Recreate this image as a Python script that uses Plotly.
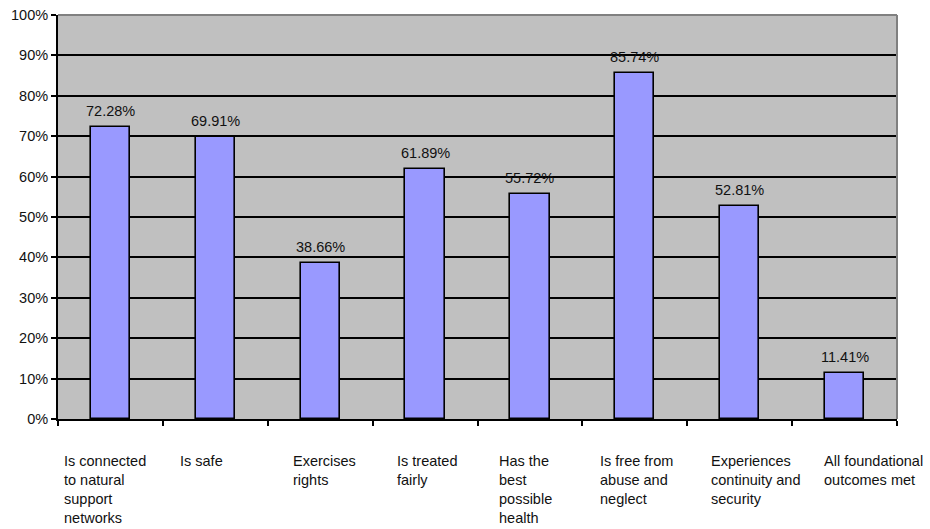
import plotly.graph_objects as go

# Foundational outcomes and the share of people meeting each one
categories = [
    "Is connected<br>to natural<br>support<br>networks",
    "Is safe",
    "Exercises<br>rights",
    "Is treated<br>fairly",
    "Has the<br>best<br>possible<br>health",
    "Is free from<br>abuse and<br>neglect",
    "Experiences<br>continuity and<br>security",
    "All foundational<br>outcomes met",
]
values = [0.7228, 0.6991, 0.3866, 0.6189, 0.5572, 0.8574, 0.5281, 0.1141]

# horizontal nudge (px) of each category label from its left tick
label_shift = [4, 15, 23, 22, 19, 16, 22, 30]

FONT = "Liberation Sans, Arial, sans-serif"
n = len(categories)
xpos = [i + 0.5 for i in range(n)]

fig = go.Figure(
    go.Bar(
        x=xpos,
        y=values,
        width=0.375,
        marker=dict(color="#9999FF", line=dict(color="black", width=1.6)),
        hoverinfo="skip",
    )
)

annotations = []
# value labels above each bar
for x, v in zip(xpos, values):
    annotations.append(dict(
        x=x, y=v, xref="x", yref="y", text=f"{v * 100:.2f}%",
        showarrow=False, xanchor="center", yanchor="bottom", yshift=6,
        font=dict(family=FONT, size=14.5, color="#111111"),
    ))
# category labels under the axis, left-aligned from each tick
for i, (cat, dx) in enumerate(zip(categories, label_shift)):
    annotations.append(dict(
        x=i, y=0, xref="x", yref="paper", text=cat, align="left",
        showarrow=False, xanchor="left", yanchor="top", xshift=dx, yshift=-32,
        font=dict(family=FONT, size=14.5, color="#111111"),
    ))

fig.update_layout(
    width=930, height=529,
    margin=dict(l=58, r=33, t=15, b=110, autoexpand=False),
    paper_bgcolor="white",
    plot_bgcolor="#C0C0C0",
    showlegend=False,
    bargap=0,
    annotations=annotations,
    font=dict(family=FONT, size=14.5, color="#111111"),
    xaxis=dict(
        range=[0, n], tickvals=list(range(n + 1)), showticklabels=False,
        ticks="outside", ticklen=5, tickwidth=1.5, tickcolor="black",
        showline=True, linecolor="black", linewidth=2,
        showgrid=False, zeroline=False, fixedrange=True, automargin=False,
    ),
    yaxis=dict(
        range=[0, 1], dtick=0.1, tickformat=".0%",
        ticks="outside", ticklen=5, tickwidth=1.5, tickcolor="black",
        showline=True, linecolor="black", linewidth=2,
        showgrid=True, gridcolor="black", gridwidth=1.5,
        zeroline=False, fixedrange=True, automargin=False,
        tickfont=dict(family=FONT, size=14.5, color="#111111"),
    ),
    shapes=[
        dict(type="line", xref="paper", yref="paper", x0=0, x1=1, y0=1, y1=1,
             line=dict(color="#808080", width=2)),
        dict(type="line", xref="paper", yref="paper", x0=1, x1=1, y0=0, y1=1,
             line=dict(color="#808080", width=2)),
    ],
)

fig.write_html("out.html")
